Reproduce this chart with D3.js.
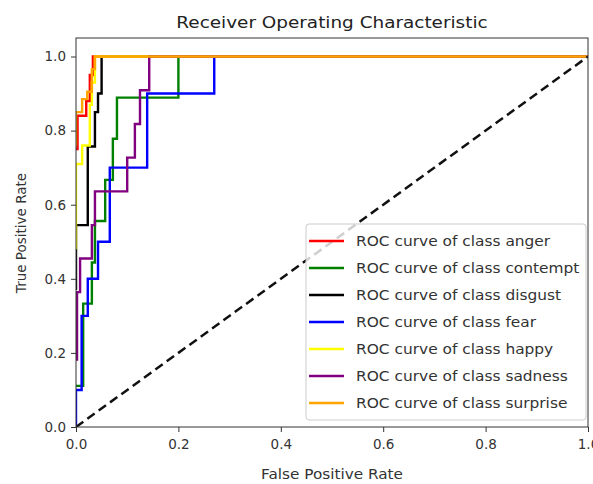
<!DOCTYPE html>
<html>
<head>
<meta charset="utf-8">
<script src="https://cdn.jsdelivr.net/npm/d3@7"></script>
<style>
  body { margin: 0; background: #fff; }
  svg { font-family: "DejaVu Sans", sans-serif; }
</style>
</head>
<body>
<div id="vis"></div>
<script>
var classes = ['anger', 'contempt', 'disgust', 'fear', 'happy', 'sadness', 'surprise'];
var colors = ['red', 'green', 'black', 'blue', 'yellow', 'purple', 'orange'];

// fpr / tpr per class
var fprAnger = [0, 0.003, 0.003, 0.02, 0.02, 0.027, 0.027, 0.033, 0.033, 1];
var tprAnger = [0.75, 0.75, 0.84, 0.84, 0.88, 0.88, 0.95, 0.95, 1, 1];

var fprContempt = [0, 0.014, 0.014, 0.031, 0.031, 0.037, 0.037, 0.057, 0.057, 0.072, 0.072, 0.08, 0.08, 0.2, 0.2, 1];
var tprContempt = [0.111, 0.111, 0.333, 0.333, 0.444, 0.444, 0.556, 0.556, 0.667, 0.667, 0.778, 0.778, 0.889, 0.889, 1, 1];

var fprDisgust = [0, 0, 0.023, 0.023, 0.037, 0.037, 0.043, 0.043, 0.05, 0.05, 1];
var tprDisgust = [0.37, 0.545, 0.545, 0.757, 0.757, 0.85, 0.85, 0.9, 0.9, 1, 1];

var fprFear = [0, 0, 0.011, 0.011, 0.023, 0.023, 0.043, 0.043, 0.066, 0.066, 0.139, 0.139, 0.27, 0.27, 1];
var tprFear = [0, 0.1, 0.1, 0.3, 0.3, 0.4, 0.4, 0.5, 0.5, 0.7, 0.7, 0.9, 0.9, 1, 1];

var fprHappy = [0, 0, 0.012, 0.012, 0.027, 0.027, 0.031, 0.031, 0.037, 0.037, 1];
var tprHappy = [0.48, 0.71, 0.71, 0.76, 0.76, 0.87, 0.87, 0.93, 0.93, 1, 1];

var fprSadness = [0, 0.002, 0.002, 0.008, 0.008, 0.031, 0.031, 0.037, 0.037, 0.1, 0.1, 0.115, 0.115, 0.125, 0.125, 0.143, 0.143, 1];
var tprSadness = [0.182, 0.182, 0.364, 0.364, 0.455, 0.455, 0.545, 0.545, 0.636, 0.636, 0.727, 0.727, 0.818, 0.818, 0.909, 0.909, 1, 1];

var fprSurprise = [0, 0, 0.012, 0.012, 0.022, 0.022, 0.031, 0.031, 0.037, 0.037, 1];
var tprSurprise = [0.76, 0.85, 0.85, 0.885, 0.885, 0.905, 0.905, 0.966, 0.966, 1, 1];

var xTicks = [0, 0.2, 0.4, 0.6, 0.8, 1.0];
var yTicks = [0, 0.2, 0.4, 0.6, 0.8, 1.0];

var allFpr = [fprAnger, fprContempt, fprDisgust, fprFear, fprHappy, fprSadness, fprSurprise];
var allTpr = [tprAnger, tprContempt, tprDisgust, tprFear, tprHappy, tprSadness, tprSurprise];

var width = 593;
var height = 484;
var plotLeft = 76, plotRight = 588, plotTop = 38, plotBottom = 427;

var svg = d3.select('#vis')
  .append('svg')
  .attr('width', width)
  .attr('height', height);

var x = d3.scaleLinear().domain([0, 1]).range([plotLeft, plotRight]);
var y = d3.scaleLinear().domain([0, 1.05]).range([plotBottom, plotTop]);

// the picture is a bit wider than the fonts, stretch text to fit
function stretch(sel, k) {
  sel.each(function() {
    var w = this.getComputedTextLength();
    d3.select(this).attr('textLength', w * k).attr('lengthAdjust', 'spacingAndGlyphs');
  });
}

svg.append('clipPath')
  .attr('id', 'plotclip')
  .append('rect')
  .attr('x', plotLeft).attr('y', plotTop)
  .attr('width', plotRight - plotLeft).attr('height', plotBottom - plotTop);

var line = d3.line()
  .x(function(d) { return x(d[0]); })
  .y(function(d) { return y(d[1]); });

var plot = svg.append('g').attr('clip-path', 'url(#plotclip)');

classes.forEach(function(c, i) {
  var pts = allFpr[i].map(function(f, j) { return [f, allTpr[i][j]]; });
  plot.append('path')
    .datum(pts)
    .attr('fill', 'none')
    .attr('stroke', colors[i])
    .attr('stroke-width', 2.4)
    .attr('d', line);
});

// chance line
plot.append('path')
  .datum([[0, 0], [1, 1]])
  .attr('fill', 'none')
  .attr('stroke', '#111')
  .attr('stroke-width', 2.5)
  .attr('stroke-dasharray', '9,5')
  .attr('d', line);

// axes
var xAxis = d3.axisBottom(x).tickValues(xTicks).tickSize(5).tickPadding(7)
  .tickFormat(d3.format('.1f'));
var yAxis = d3.axisLeft(y).tickValues(yTicks).tickSize(5).tickPadding(5)
  .tickFormat(d3.format('.1f'));

svg.append('g')
  .attr('transform', 'translate(0,' + plotBottom + ')')
  .call(xAxis)
  .call(function(g) { g.select('.domain').remove(); });

svg.append('g')
  .attr('transform', 'translate(' + plotLeft + ',0)')
  .call(yAxis)
  .call(function(g) { g.select('.domain').remove(); });

svg.selectAll('.tick text')
  .attr('font-family', '"DejaVu Sans", sans-serif')
  .attr('font-size', 13.5)
  .attr('fill', '#333');
svg.selectAll('.tick line').attr('stroke', '#333');

// frame
svg.append('rect')
  .attr('x', plotLeft).attr('y', plotTop)
  .attr('width', plotRight - plotLeft).attr('height', plotBottom - plotTop)
  .attr('fill', 'none')
  .attr('stroke', '#333')
  .attr('stroke-width', 1);

// title and labels
svg.append('text')
  .attr('x', 332).attr('y', 28)
  .attr('text-anchor', 'middle')
  .attr('font-size', 16)
  .attr('fill', '#222')
  .text('Receiver Operating Characteristic')
  .call(stretch, 1.15);

svg.append('text')
  .attr('x', 332).attr('y', 479)
  .attr('text-anchor', 'middle')
  .attr('font-size', 13.5)
  .attr('fill', '#333')
  .text('False Positive Rate')
  .call(stretch, 1.13);

svg.append('text')
  .attr('transform', 'translate(26,233) rotate(-90)')
  .attr('text-anchor', 'middle')
  .attr('font-size', 13.5)
  .attr('fill', '#333')
  .text('True Positive Rate');

// legend
var legend = svg.append('g').attr('transform', 'translate(306,224)');
legend.append('rect')
  .attr('width', 280).attr('height', 196)
  .attr('rx', 3)
  .attr('fill', 'white').attr('fill-opacity', 0.8)
  .attr('stroke', '#ccc');

var rows = legend.selectAll('.row')
  .data(classes)
  .enter().append('g')
  .attr('class', 'row')
  .attr('transform', function(d, i) { return 'translate(0,' + (17 + i * 27) + ')'; });

rows.append('line')
  .attr('x1', 3).attr('x2', 38)
  .attr('stroke', function(d, i) { return colors[i]; })
  .attr('stroke-width', 2.4);

rows.append('text')
  .attr('x', 50).attr('dy', '0.35em')
  .attr('font-size', 14)
  .attr('fill', '#333')
  .text(function(d) { return 'ROC curve of class ' + d; })
  .call(stretch, 1.1);
</script>
</body>
</html>
